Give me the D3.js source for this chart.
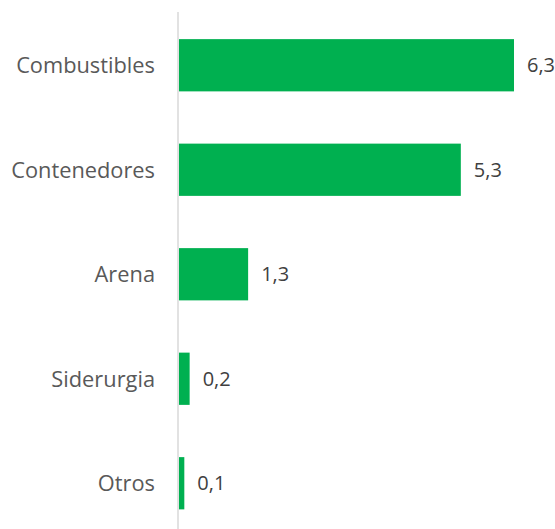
<!doctype html>
<html lang="es">
<head>
  <meta charset="utf-8">
  <script src="https://d3js.org/d3.v7.min.js"></script>
  <style>
    body { margin: 0; background: #fff; }
    text { font-family: "Open Sans", "Noto Sans", sans-serif; }
  </style>
</head>
<body>
  <script>
    // datos
    var categorias = ["Combustibles", "Contenedores", "Arena", "Siderurgia", "Otros"];
    var valores = [6.3, 5.3, 1.3, 0.2, 0.1];

    var w = 555, h = 529;
    var margin = {top: 12, right: 0, bottom: 0, left: 178};

    var svg = d3.select("body").append("svg")
      .attr("width", w)
      .attr("height", h);

    var x = d3.scaleLinear().domain([0, 6.3]).range([margin.left + 1, 514]);
    var y = d3.scaleBand().domain(categorias).range([13, 535.5]).paddingInner(0.5).paddingOuter(0.25);

    var data = categorias.map(function(c, i){ return {cat: c, val: valores[i]}; });

    // linea del eje
    svg.append("line")
      .attr("x1", margin.left).attr("x2", margin.left)
      .attr("y1", margin.top).attr("y2", h)
      .style("stroke", "#d9d9d9")
      .style("stroke-width", 1.5);

    svg.selectAll("rect.bar")
      .data(data)
      .enter().append("rect")
      .attr("class", "bar")
      .attr("x", x(0))
      .attr("y", function(d){ return y(d.cat); })
      .attr("width", function(d){ return x(d.val) - x(0); })
      .attr("height", y.bandwidth())
      .style("fill", "#00b050");

    // etiquetas de categoria
    svg.selectAll("text.cat")
      .data(data)
      .enter().append("text")
      .attr("class", "cat")
      .attr("x", 155)
      .attr("y", function(d){ return y(d.cat) + y.bandwidth() / 2; })
      .attr("dy", "0.36em")
      .attr("text-anchor", "end")
      .style("font-size", "21.8px")
      .style("fill", "#595959")
      .text(function(d){ return d.cat; });

    // etiquetas de valor
    svg.selectAll("text.val")
      .data(data)
      .enter().append("text")
      .attr("class", "val")
      .attr("x", function(d){ return x(d.val) + 13; })
      .attr("y", function(d){ return y(d.cat) + y.bandwidth() / 2; })
      .attr("dy", "0.36em")
      .style("font-size", "20px")
      .style("fill", "#404040")
      .text(function(d){ return d3.format(".1f")(d.val).replace(".", ","); });
  </script>
</body>
</html>
